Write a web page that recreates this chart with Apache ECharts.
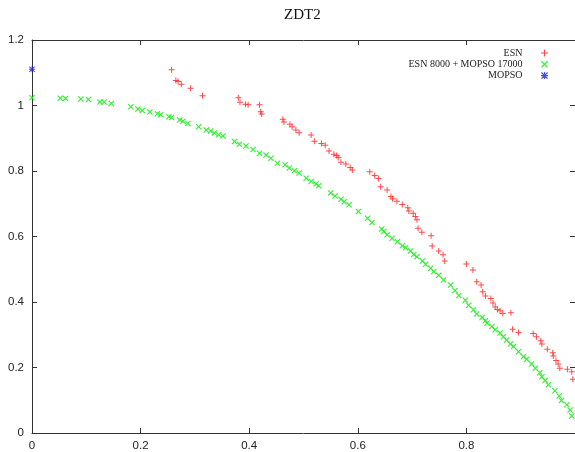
<!DOCTYPE html>
<html>
<head>
<meta charset="utf-8">
<script src="https://cdn.jsdelivr.net/npm/echarts@6/dist/echarts.min.js"></script>
<style>html,body{margin:0;padding:0;background:#fff;}#c{width:575px;height:452px;}</style>
</head>
<body>
<div id="c"></div>
<script>
const titleText = 'ZDT2';
const seriesNames = ['ESN', 'ESN 8000 + MOPSO 17000', 'MOPSO'];
const xTicks = [0, 0.2, 0.4, 0.6, 0.8, 1];
const yTicks = [0, 0.2, 0.4, 0.6, 0.8, 1, 1.2];

const esn = [
  [0.257,1.109],[0.265,1.076],[0.269,1.073],[0.275,1.065],[0.292,1.053],[0.314,1.030],
  [0.380,1.024],[0.383,1.010],[0.393,1.004],[0.398,1.002],[0.419,1.002],[0.421,0.981],[0.423,0.974],
  [0.462,0.958],[0.464,0.950],[0.475,0.943],[0.479,0.935],[0.486,0.925],[0.492,0.917],
  [0.514,0.910],[0.520,0.891],[0.533,0.884],[0.540,0.879],[0.547,0.861],[0.556,0.851],
  [0.561,0.847],[0.564,0.841],[0.569,0.827],[0.578,0.821],[0.586,0.811],[0.590,0.803],
  [0.622,0.798],[0.631,0.786],[0.638,0.777],[0.642,0.752],[0.654,0.742],[0.661,0.722],
  [0.664,0.715],[0.672,0.708],[0.682,0.698],[0.692,0.688],[0.694,0.678],[0.702,0.671],
  [0.706,0.661],[0.709,0.651],[0.711,0.625],[0.718,0.613],[0.735,0.602],[0.737,0.571],
  [0.749,0.556],[0.757,0.544],[0.760,0.525],[0.800,0.516],[0.812,0.498],[0.819,0.462],
  [0.827,0.452],[0.830,0.431],[0.835,0.418],[0.845,0.411],[0.849,0.397],[0.853,0.385],
  [0.857,0.377],[0.862,0.373],[0.867,0.365],[0.882,0.367],[0.885,0.317],[0.896,0.307],
  [0.923,0.304],[0.929,0.294],[0.937,0.282],[0.939,0.272],[0.949,0.256],[0.959,0.245],
  [0.960,0.235],[0.965,0.221],[0.969,0.211],[0.972,0.198],[0.986,0.195],[0.994,0.187],[0.996,0.164]
];

const esnMopso = [
  [0,1.024],[0.052,1.022],[0.062,1.021],[0.090,1.020],[0.104,1.018],[0.125,1.011],[0.133,1.011],
  [0.146,1.006],[0.182,0.996],[0.195,0.989],[0.203,0.985],[0.217,0.980],[0.231,0.975],[0.237,0.972],
  [0.252,0.966],[0.257,0.963],[0.272,0.956],[0.278,0.952],[0.287,0.945],[0.307,0.935],[0.321,0.925],
  [0.329,0.922],[0.336,0.916],[0.344,0.911],[0.352,0.907],[0.373,0.890],[0.382,0.882],[0.394,0.876],
  [0.407,0.866],[0.419,0.854],[0.431,0.849],[0.440,0.839],[0.452,0.824],[0.466,0.819],[0.474,0.809],
  [0.483,0.801],[0.492,0.794],[0.505,0.778],[0.514,0.768],[0.523,0.761],[0.528,0.755],[0.550,0.733],
  [0.558,0.724],[0.569,0.714],[0.575,0.706],[0.584,0.697],[0.601,0.676],[0.618,0.656],[0.626,0.643],
  [0.644,0.623],[0.648,0.615],[0.654,0.605],[0.663,0.595],[0.673,0.584],[0.682,0.572],[0.688,0.566],
  [0.697,0.556],[0.703,0.545],[0.709,0.538],[0.719,0.525],[0.725,0.515],[0.734,0.503],[0.740,0.493],
  [0.749,0.482],[0.758,0.467],[0.771,0.452],[0.779,0.435],[0.786,0.420],[0.798,0.405],[0.804,0.390],
  [0.813,0.376],[0.819,0.363],[0.829,0.353],[0.835,0.343],[0.838,0.335],[0.847,0.325],[0.853,0.315],
  [0.862,0.305],[0.868,0.294],[0.874,0.284],[0.881,0.272],[0.887,0.264],[0.896,0.248],[0.905,0.233],
  [0.911,0.225],[0.920,0.211],[0.927,0.198],[0.935,0.184],[0.939,0.172],[0.945,0.160],[0.951,0.147],
  [0.963,0.129],[0.971,0.113],[0.975,0.099],[0.985,0.086],[0.991,0.070],[0.994,0.052]
];

const mopso = [[0, 1.111]];

const PLUS = 'path://M5,0H7V5H12V7H7V12H5V7H0V5H5Z';
const CROSS = 'path://M0,1.5L1.5,0L6,4.5L10.5,0L12,1.5L7.5,6L12,10.5L10.5,12L6,7.5L1.5,12L0,10.5L4.5,6Z';
const STAR = 'path://M5,0H7V5H12V7H7V12H5V7H0V5H5Z M0,1.5L1.5,0L6,4.5L10.5,0L12,1.5L7.5,6L12,10.5L10.5,12L6,7.5L1.5,12L0,10.5L4.5,6Z';

const sans = 'Liberation Sans';
const serif = 'Liberation Serif';
const axisLineStyle = { color: '#333', width: 1 };

const chart = echarts.init(document.getElementById('c'), null, { renderer: 'canvas' });
chart.setOption({
  animation: false,
  backgroundColor: '#fff',
  title: {
    text: titleText, left: 279, top: 3,
    textStyle: { fontFamily: serif, fontSize: 15, fontWeight: 'normal', color: '#111' }
  },
  legend: {
    orient: 'vertical', right: 22, top: 43, align: 'right',
    itemWidth: 34, itemHeight: 7, itemGap: 1.3,
    textStyle: { fontFamily: serif, fontSize: 10, color: '#222' },
    data: [
      { name: seriesNames[0], icon: PLUS },
      { name: seriesNames[1], icon: CROSS },
      { name: seriesNames[2], icon: STAR }
    ]
  },
  grid: { left: 32, top: 40, width: 545, height: 393, containLabel: false },
  xAxis: [{
    type: 'value', min: xTicks[0], max: xTicks[xTicks.length - 1], interval: 0.2,
    axisLine: { show: true, onZero: false, lineStyle: axisLineStyle },
    axisTick: { show: true, inside: true, length: 5, lineStyle: axisLineStyle },
    axisLabel: { margin: 7, fontFamily: sans, fontSize: 11.5, color: '#222', showMaxLabel: false,
      formatter: v => String(v) },
    splitLine: { show: false }
  }, {
    type: 'value', position: 'top', min: xTicks[0], max: xTicks[xTicks.length - 1], interval: 0.2,
    axisLine: { show: true, onZero: false, lineStyle: axisLineStyle },
    axisTick: { show: true, inside: true, length: 5, lineStyle: axisLineStyle },
    axisLabel: { show: false }, splitLine: { show: false }
  }],
  yAxis: [{
    type: 'value', min: yTicks[0], max: yTicks[yTicks.length - 1], interval: 0.2,
    axisLine: { show: true, onZero: false, lineStyle: axisLineStyle },
    axisTick: { show: true, inside: true, length: 5, lineStyle: axisLineStyle },
    axisLabel: { margin: 8, fontFamily: sans, fontSize: 11.5, color: '#222',
      formatter: v => String(Math.round(v * 10) / 10) },
    splitLine: { show: false }
  }, {
    type: 'value', position: 'right', min: yTicks[0], max: yTicks[yTicks.length - 1], interval: 0.2,
    axisLine: { show: true, onZero: false, lineStyle: axisLineStyle },
    axisTick: { show: true, inside: true, length: 5, lineStyle: axisLineStyle },
    axisLabel: { show: false }, splitLine: { show: false }
  }],
  series: [
    { name: seriesNames[0], type: 'scatter', data: esn, symbol: PLUS, symbolSize: 6,
      itemStyle: { color: '#ff2a2a', opacity: 0.85 }, clip: false },
    { name: seriesNames[1], type: 'scatter', data: esnMopso, symbol: CROSS, symbolSize: 6,
      itemStyle: { color: '#22ee22', opacity: 0.95 }, clip: false },
    { name: seriesNames[2], type: 'scatter', data: mopso, symbol: STAR, symbolSize: 6,
      itemStyle: { color: '#2222dd' }, clip: false }
  ]
});
</script>
</body>
</html>
